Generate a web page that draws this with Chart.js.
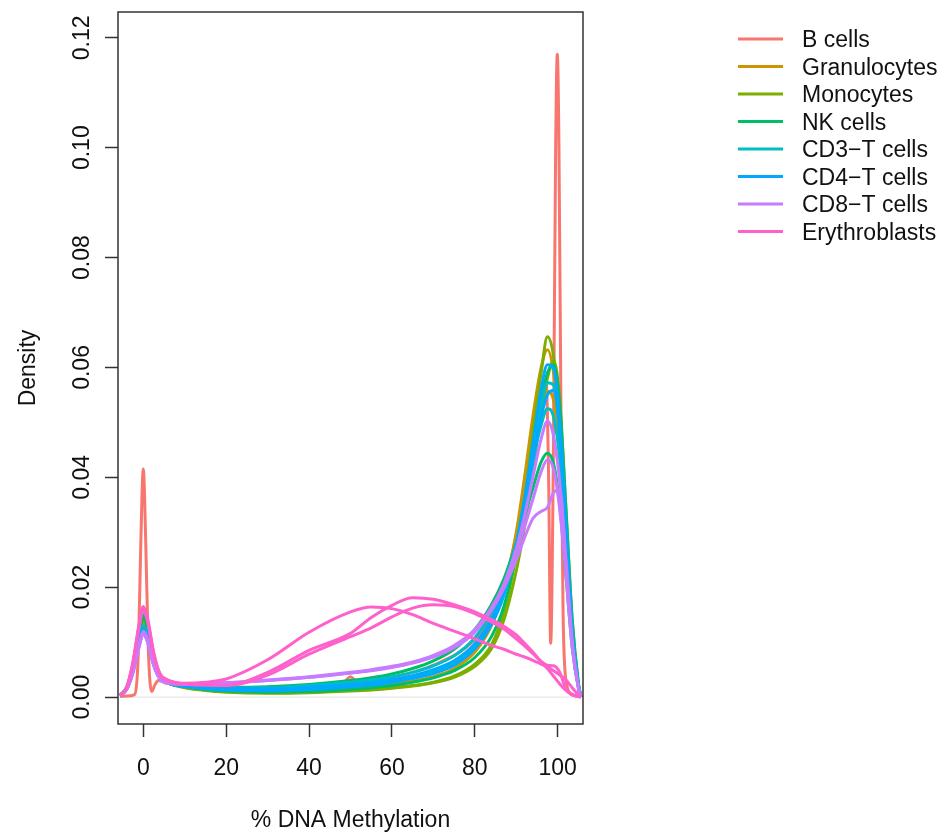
<!DOCTYPE html>
<html>
<head>
<meta charset="utf-8">
<script src="https://cdn.jsdelivr.net/npm/chart.js@4.4.0/dist/chart.umd.min.js"></script>
<style>
  html, body { margin: 0; padding: 0; background: #fff; }
  #wrap { width: 942px; height: 834px; position: relative; }
</style>
</head>
<body>
<div id="wrap"><canvas id="density"></canvas></div>
<script>
const xTitle = '% DNA Methylation';
const yTitle = 'Density';
const X_MIN = -6.1, X_MAX = 106.1;
const Y_MIN = -0.0049, Y_MAX = 0.1247;

const cellTypes = ['B cells', 'Granulocytes', 'Monocytes', 'NK cells',
  'CD3\u2212T cells', 'CD4\u2212T cells', 'CD8\u2212T cells', 'Erythroblasts'];
const typeColors = ['#F8766D', '#CD9600', '#7CAE00', '#00BE67',
  '#00BFC4', '#00A9FF', '#C77CFF', '#FF61CC'];

// shared methylation grid (%) for the density estimates
const methylation = [-5.6, -4, -2.5, -1, 0, 1, 2.5, 4, 6,
  10, 15, 20, 30, 40, 50, 55, 60, 65, 70, 75, 80,
  84, 87, 90, 92, 94, 96, 97.5, 99, 100.5, 102, 103.5, 105, 105.6];

// the B cell sample is spiky, so it gets its own grid
const bCellsX = [-5.6, -4, -2.2, -1.2, -0.6, 0, 0.6, 1.2, 2, 2.8,
  3.6, 5, 10, 20, 30, 40, 48.5, 50, 51.5, 60,
  70, 80, 84, 87, 90, 92, 94, 96, 97.2, 97.8,
  98.3, 98.9, 99.5, 99.9, 100.3, 100.8, 101.3, 102, 103.5, 105.6];
const bCells1 = [0.0001, 0.0002, 0.0004, 0.008, 0.028, 0.0415, 0.028, 0.009, 0.001, 0.0022,
  0.003, 0.0028, 0.0021, 0.0015, 0.0014, 0.0019, 0.0028, 0.0037, 0.0029, 0.0036,
  0.0058, 0.0105, 0.015, 0.0205, 0.0295, 0.038, 0.047, 0.055, 0.0575, 0.04,
  0.0098, 0.04, 0.1, 0.117, 0.1, 0.05, 0.015, 0.003, 0.0005, 0];

const granulocytes1 = [0.0003, 0.0017, 0.0053, 0.0112, 0.014, 0.0123, 0.007, 0.0037, 0.0026,
  0.0019, 0.0014, 0.0012, 0.001, 0.0012, 0.0016, 0.0019, 0.0023, 0.0029, 0.0037, 0.0052, 0.0082,
  0.013, 0.0195, 0.03, 0.04, 0.051, 0.06, 0.0632, 0.059, 0.047, 0.028, 0.011, 0.002, 0];
const granulocytes2 = [0.0003, 0.0016, 0.0051, 0.0108, 0.0135, 0.0119, 0.0068, 0.0036, 0.0026,
  0.0019, 0.0015, 0.0013, 0.0012, 0.0014, 0.0019, 0.0022, 0.0027, 0.0034, 0.0044, 0.006, 0.0092,
  0.0138, 0.019, 0.0275, 0.035, 0.044, 0.052, 0.0556, 0.054, 0.045, 0.028, 0.011, 0.002, 0];
const monocytes1 = [0.0003, 0.0017, 0.0055, 0.0116, 0.0145, 0.0128, 0.0072, 0.0038, 0.0026,
  0.0018, 0.0013, 0.001, 0.0008, 0.0009, 0.0012, 0.0014, 0.0017, 0.0021, 0.0027, 0.0038, 0.006,
  0.0095, 0.0155, 0.026, 0.036, 0.048, 0.059, 0.0656, 0.062, 0.05, 0.03, 0.012, 0.002, 0];
const monocytes2 = [0.0003, 0.0017, 0.0053, 0.0112, 0.014, 0.0123, 0.007, 0.0037, 0.0026,
  0.0017, 0.0012, 0.0009, 0.0007, 0.0008, 0.0011, 0.0013, 0.0016, 0.002, 0.0026, 0.0036, 0.0056,
  0.0088, 0.014, 0.023, 0.031, 0.041, 0.052, 0.058, 0.0612, 0.054, 0.034, 0.014, 0.0025, 0];
const nkCells1 = [0.0003, 0.0018, 0.0057, 0.012, 0.015, 0.0132, 0.0075, 0.0039, 0.0027,
  0.0019, 0.0014, 0.0011, 0.0009, 0.001, 0.0014, 0.0017, 0.0021, 0.0027, 0.0035, 0.0048, 0.0072,
  0.011, 0.0165, 0.026, 0.034, 0.044, 0.054, 0.059, 0.0605, 0.053, 0.034, 0.014, 0.0025, 0];
const nkCells2 = [0.0003, 0.0017, 0.0055, 0.0116, 0.0145, 0.0128, 0.0072, 0.0038, 0.0026,
  0.0021, 0.0019, 0.0018, 0.0019, 0.0023, 0.003, 0.0035, 0.0042, 0.0052, 0.0066, 0.0087, 0.0123,
  0.0168, 0.0215, 0.028, 0.033, 0.038, 0.0428, 0.0444, 0.0425, 0.035, 0.022, 0.009, 0.0016, 0];
const cd3Cells1 = [0.0003, 0.0016, 0.0049, 0.0104, 0.013, 0.0114, 0.0065, 0.0036, 0.0026,
  0.002, 0.0016, 0.0014, 0.0013, 0.0016, 0.0021, 0.0025, 0.003, 0.0037, 0.0047, 0.0063, 0.0094,
  0.014, 0.0193, 0.028, 0.036, 0.045, 0.053, 0.0572, 0.0568, 0.048, 0.03, 0.012, 0.002, 0];
const cd3Cells2 = [0.0003, 0.0015, 0.0049, 0.0102, 0.0128, 0.0113, 0.0064, 0.0035, 0.0026,
  0.0021, 0.0018, 0.0017, 0.0017, 0.0021, 0.0027, 0.0031, 0.0037, 0.0045, 0.0057, 0.0075, 0.0108,
  0.0155, 0.0205, 0.028, 0.035, 0.043, 0.0495, 0.0525, 0.051, 0.043, 0.027, 0.011, 0.002, 0];
const cd4Cells1 = [0.0003, 0.0015, 0.0048, 0.01, 0.0125, 0.011, 0.0063, 0.0035, 0.0026,
  0.0019, 0.0015, 0.0013, 0.0012, 0.0014, 0.0019, 0.0022, 0.0027, 0.0034, 0.0043, 0.0058, 0.0088,
  0.0132, 0.0185, 0.0275, 0.036, 0.046, 0.056, 0.0605, 0.0598, 0.05, 0.031, 0.012, 0.002, 0];
const cd4Cells2 = [0.0003, 0.0014, 0.0046, 0.0096, 0.012, 0.0106, 0.006, 0.0034, 0.0025,
  0.002, 0.0017, 0.0016, 0.0015, 0.0018, 0.0023, 0.0027, 0.0032, 0.0039, 0.005, 0.0066, 0.0097,
  0.0142, 0.0192, 0.027, 0.034, 0.043, 0.051, 0.055, 0.0558, 0.048, 0.03, 0.012, 0.002, 0];
const cd8Cells1 = [0.0003, 0.0014, 0.0044, 0.0092, 0.0115, 0.0101, 0.0058, 0.0033, 0.0025,
  0.0023, 0.0024, 0.0025, 0.003, 0.0036, 0.0044, 0.0048, 0.0054, 0.0062, 0.0073, 0.009, 0.0118,
  0.016, 0.0205, 0.027, 0.033, 0.04, 0.047, 0.0502, 0.0475, 0.039, 0.025, 0.01, 0.0018, 0];
const cd8Cells2 = [0.0003, 0.0014, 0.0046, 0.0096, 0.012, 0.0106, 0.006, 0.0034, 0.0025,
  0.0024, 0.0025, 0.0026, 0.0031, 0.0037, 0.0045, 0.005, 0.0056, 0.0064, 0.0076, 0.0094, 0.0123,
  0.0163, 0.0205, 0.0265, 0.031, 0.036, 0.041, 0.0432, 0.0415, 0.034, 0.022, 0.009, 0.0016, 0];
const cd8Cells3 = [0.0003, 0.0014, 0.0044, 0.0092, 0.0115, 0.0101, 0.0058, 0.0033, 0.0025,
  0.0024, 0.0025, 0.0026, 0.003, 0.0036, 0.0044, 0.0049, 0.0055, 0.0063, 0.0075, 0.0092, 0.012,
  0.0158, 0.0198, 0.025, 0.029, 0.0325, 0.0338, 0.0345, 0.0372, 0.0378, 0.024, 0.0095, 0.0017, 0];
const erythroblasts1 = [0.0003, 0.0018, 0.0064, 0.0134, 0.0165, 0.0145, 0.0082, 0.0043, 0.0031,
  0.0025, 0.0027, 0.0033, 0.0068, 0.0118, 0.0155, 0.0164, 0.0161, 0.015, 0.0134, 0.012, 0.0106,
  0.0094, 0.0087, 0.0078, 0.0073, 0.0067, 0.006, 0.0055, 0.0048, 0.004, 0.0031, 0.0017, 0.0004, 0];
const erythroblasts2 = [0.0003, 0.0018, 0.0062, 0.013, 0.016, 0.014, 0.0079, 0.0042, 0.003,
  0.0024, 0.0022, 0.0022, 0.0045, 0.0085, 0.0116, 0.0145, 0.0167, 0.0181, 0.0178, 0.0168, 0.0155,
  0.0141, 0.0129, 0.0113, 0.0098, 0.0082, 0.0064, 0.0052, 0.0038, 0.0024, 0.0012, 0.0004, 0.0001, 0];
const erythroblasts3 = [0.0003, 0.0018, 0.0061, 0.0128, 0.0158, 0.0139, 0.0078, 0.0041, 0.003,
  0.0024, 0.0022, 0.0021, 0.004, 0.0078, 0.011, 0.0126, 0.0146, 0.0162, 0.0168, 0.0165, 0.0152,
  0.0137, 0.0124, 0.0106, 0.0093, 0.0079, 0.0065, 0.0058, 0.0057, 0.0045, 0.0014, 0.0004, 0.0001, 0];

// one entry per sample, type indexes cellTypes
const samples = [
  {type: 0, x: bCellsX, y: bCells1},
  {type: 1, y: granulocytes1}, {type: 1, y: granulocytes2},
  {type: 2, y: monocytes1}, {type: 2, y: monocytes2},
  {type: 3, y: nkCells1}, {type: 3, y: nkCells2},
  {type: 4, y: cd3Cells1}, {type: 4, y: cd3Cells2},
  {type: 5, y: cd4Cells1}, {type: 5, y: cd4Cells2},
  {type: 6, y: cd8Cells1}, {type: 6, y: cd8Cells2}, {type: 6, y: cd8Cells3},
  {type: 7, y: erythroblasts1}, {type: 7, y: erythroblasts2}, {type: 7, y: erythroblasts3}
];

const FONT = '23px "Liberation Sans", Arial, Helvetica, sans-serif';

// base-graphics look: frame, zero line, tick labels, titles and legend
const basePlot = {
  id: 'basePlot',
  beforeDatasetsDraw(chart) {
    const {ctx, chartArea: a, scales: {y}} = chart;
    const y0 = y.getPixelForValue(0);
    ctx.save();
    ctx.strokeStyle = '#e2e2e2';
    ctx.lineWidth = 1;
    ctx.beginPath();
    ctx.moveTo(a.left, y0);
    ctx.lineTo(a.right, y0);
    ctx.stroke();
    ctx.restore();
  },
  afterDraw(chart) {
    const {ctx, chartArea: a, scales: {x, y}} = chart;
    ctx.save();
    ctx.strokeStyle = '#333';
    ctx.lineWidth = 1.5;
    ctx.strokeRect(a.left, a.top, a.right - a.left, a.bottom - a.top);

    ctx.fillStyle = '#111';
    ctx.font = FONT;
    ctx.textAlign = 'center';
    ctx.textBaseline = 'alphabetic';
    x.ticks.forEach(t => ctx.fillText(String(t.value), x.getPixelForValue(t.value), 775));
    ctx.fillText(xTitle, (a.left + a.right) / 2, 827);

    y.ticks.forEach(t => {
      ctx.save();
      ctx.translate(88.5, y.getPixelForValue(t.value));
      ctx.rotate(-Math.PI / 2);
      ctx.fillText(t.value.toFixed(2), 0, 0);
      ctx.restore();
    });
    ctx.save();
    ctx.translate(35, (a.top + a.bottom) / 2);
    ctx.rotate(-Math.PI / 2);
    ctx.fillText(yTitle, 0, 0);
    ctx.restore();

    ctx.textAlign = 'left';
    cellTypes.forEach((name, i) => {
      const ly = 39 + i * 27.5;
      ctx.strokeStyle = typeColors[i];
      ctx.lineWidth = 3;
      ctx.beginPath();
      ctx.moveTo(738, ly);
      ctx.lineTo(783, ly);
      ctx.stroke();
      ctx.fillText(name, 802, ly + 8);
    });
    ctx.restore();
  }
};

const datasets = samples.map((s, i) => ({
  label: cellTypes[s.type],
  data: s.y.map((v, k) => ({x: (s.x || methylation)[k], y: v})),
  borderColor: typeColors[s.type],
  order: samples.length - i
}));

new Chart(document.getElementById('density'), {
  type: 'line',
  data: {datasets},
  plugins: [basePlot],
  options: {
    responsive: true,
    maintainAspectRatio: false,
    animation: false,
    layout: {padding: {left: 0, right: 359, top: 12, bottom: 0}},
    plugins: {legend: {display: false}, tooltip: {enabled: false}},
    elements: {
      point: {radius: 0},
      line: {borderWidth: 3, cubicInterpolationMode: 'monotone'}
    },
    scales: {
      x: {
        type: 'linear', min: X_MIN, max: X_MAX,
        afterFit(scale) { scale.height = 110; },
        ticks: {display: false, stepSize: 20, includeBounds: false},
        grid: {drawOnChartArea: false, tickLength: 13, tickColor: '#333', tickWidth: 1.5},
        border: {display: false}
      },
      y: {
        type: 'linear', min: Y_MIN, max: Y_MAX,
        afterFit(scale) { scale.width = 118; },
        ticks: {display: false, stepSize: 0.02, includeBounds: false},
        grid: {drawOnChartArea: false, tickLength: 13, tickColor: '#333', tickWidth: 1.5},
        border: {display: false}
      }
    }
  }
});
</script>
</body>
</html>
